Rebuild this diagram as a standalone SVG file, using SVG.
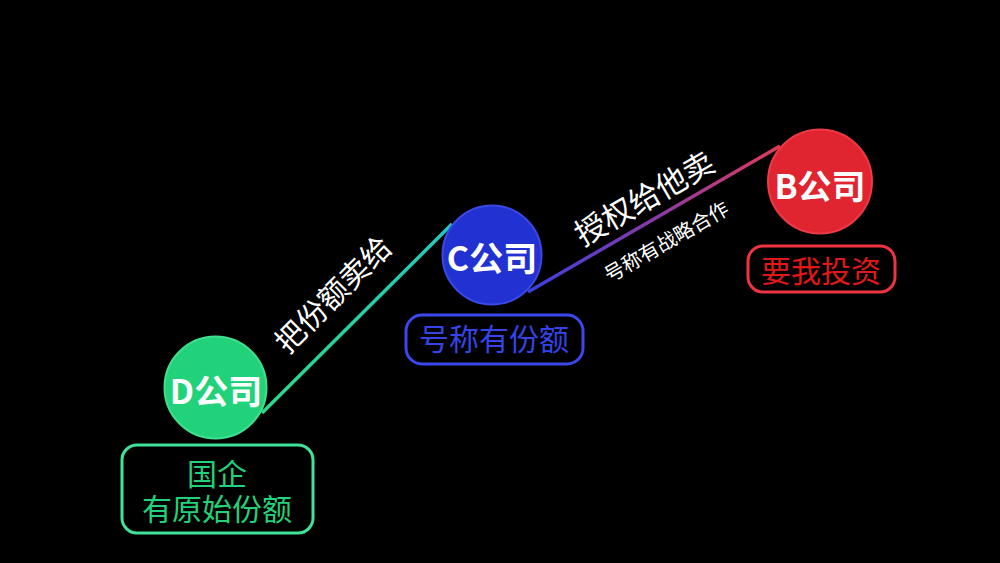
<svg xmlns="http://www.w3.org/2000/svg" width="1000" height="563" viewBox="0 0 1000 563">
<defs>
<linearGradient id="gCB" gradientUnits="userSpaceOnUse" x1="528" y1="292" x2="780" y2="146">
<stop offset="0" stop-color="#3a3ee0"/>
<stop offset="0.5" stop-color="#8a3aa8"/>
<stop offset="1" stop-color="#e03a5a"/>
</linearGradient>
<linearGradient id="gDC" gradientUnits="userSpaceOnUse" x1="262" y1="413" x2="452" y2="224">
<stop offset="0" stop-color="#2ed88a"/>
<stop offset="1" stop-color="#1fc8c0"/>
</linearGradient>
</defs>
<style>
text{font-family:"Noto Sans CJK SC","Liberation Sans",sans-serif;}
.name{font-size:34px;font-weight:bold;fill:#ffffff;text-anchor:middle;}
.lab{font-size:30px;text-anchor:middle;}
.edge{fill:#ffffff;text-anchor:middle;}
.box{fill:none;stroke-width:3;}
</style>
<rect width="1000" height="563" fill="#000000"/>
<g id="connectors">
<line x1="262" y1="413" x2="452" y2="224" stroke="url(#gDC)" stroke-width="3.5"/>
<line x1="528" y1="292" x2="780" y2="146" stroke="url(#gCB)" stroke-width="3.5"/>
<text class="edge" font-size="30" transform="translate(341,302) rotate(-45)">把份额卖给</text>
<text class="edge" font-size="31" transform="translate(650,208) rotate(-30)">授权给他卖</text>
<text class="edge" font-size="20" transform="translate(670,248) rotate(-30)">号称有战略合作</text>
</g>
<g id="nodeD">
<circle cx="215.5" cy="387.5" r="51" fill="#22d27a" stroke="#3ee08e" stroke-width="2"/>
<text class="name" x="216" y="404">D公司</text>
<rect class="box" x="122" y="445" width="191" height="88" rx="15" stroke="#3fe39a"/>
<text class="lab" fill="#22d27a"><tspan x="217" y="485">国企</tspan><tspan x="217" y="520">有原始份额</tspan></text>
</g>
<g id="nodeC">
<circle cx="492" cy="255" r="49.5" fill="#2232d2" stroke="#3a48e6" stroke-width="2"/>
<text class="name" x="492" y="271">C公司</text>
<rect class="box" x="406" y="315" width="177" height="49" rx="16" stroke="#3a48ee"/>
<text class="lab" x="494" y="350" fill="#3444e8">号称有份额</text>
</g>
<g id="nodeB">
<circle cx="820" cy="181.5" r="52" fill="#e02430" stroke="#ee3a44" stroke-width="2"/>
<text class="name" x="820" y="199">B公司</text>
<rect class="box" x="748" y="246" width="147" height="46" rx="15" stroke="#ee3440"/>
<text class="lab" x="821" y="282" font-size="31" fill="#e01818">要我投资</text>
</g>
</svg>
